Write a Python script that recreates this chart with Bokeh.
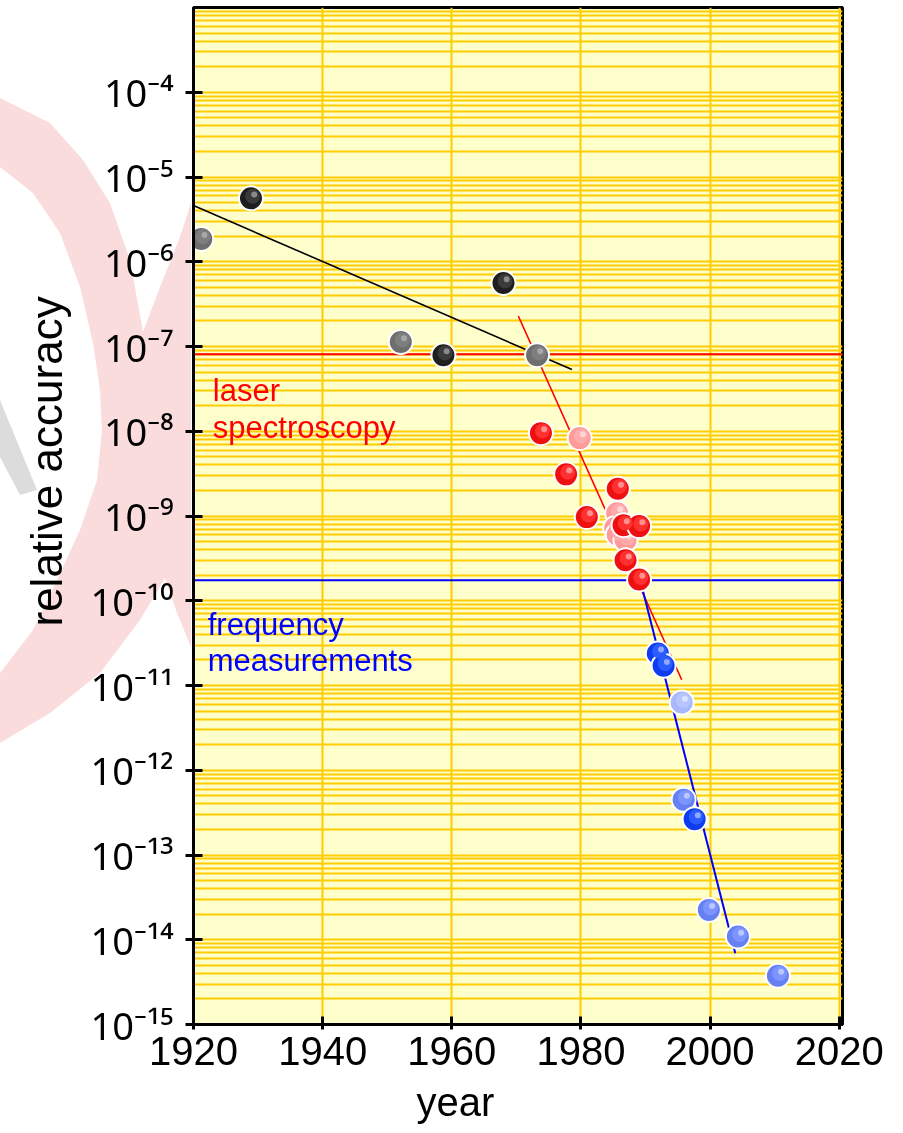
from urllib.parse import quote
from bokeh.plotting import figure
from bokeh.models import (Range1d, FixedTicker, Span, Label, Title, InlineStyleSheet,
                          CustomJSTransform, CustomJSTickFormatter)
from bokeh.transform import dodge, transform
from bokeh.embed import file_html
from bokeh.resources import INLINE

# ---------------- data ----------------
gray_year = [1921.2, 1952.1, 1973.2]
gray_acc = [1.86e-6, 1.13e-7, 7.9e-8]
black_year = [1928.9, 1958.7, 1968.0]
black_acc = [5.6e-6, 7.9e-8, 5.6e-7]

pink_year = [1979.8, 1985.6, 1985.3, 1985.7, 1986.9]
pink_acc = [8.3e-9, 1.08e-9, 7.2e-10, 6.0e-10, 5.2e-10]
red_year = [1986.6, 1973.8, 1977.7, 1985.7, 1980.9, 1989.0, 1986.9, 1989.0]
red_acc = [7.8e-10, 9.5e-9, 3.1e-9, 2.1e-9, 9.7e-10, 7.6e-10, 3.0e-10, 1.78e-10]

blue_light_year = [1995.6]
blue_light_acc = [6.3e-12]
blue_mid_year = [1995.9, 1999.8, 2004.3, 2010.5]
blue_mid_acc = [4.5e-13, 2.25e-14, 1.09e-14, 3.77e-15]
blue_dark_year = [1991.9, 1992.8, 1997.6]
blue_dark_acc = [2.39e-11, 1.71e-11, 2.65e-13]

classic_fit_year = [1920.0, 1978.6]
classic_fit_acc = [4.6e-6, 5.35e-8]
laser_fit_year = [1970.3, 1995.6]
laser_fit_acc = [2.29e-7, 1.17e-11]
freq_fit_year = [1989.6, 2003.9]
freq_fit_acc = [1.30e-10, 6.95e-15]

laser_level = 8.1e-8
freq_level = 1.74e-10

x_ticks = [1920, 1940, 1960, 1980, 2000, 2020]
y_exponents = list(range(-15, -3))

FONT = "Liberation Sans"

# ---------------- figure ----------------
p = figure(width=903, height=1133, output_backend="svg", toolbar_location=None,
           y_axis_type="log", x_range=Range1d(1920, 2020.5), y_range=Range1d(1e-15, 1e-3),
           min_border_left=193, min_border_right=61, min_border_top=7, min_border_bottom=103)

p.background_fill_color = "#FFFFCC"
p.border_fill_color = None
p.outline_line_color = "black"
p.outline_line_width = 3

# faint logo watermark in the left margin (page decoration, not data);
# laid over the page with multiply blending so that it looks like it sits behind the texts
wm_pink = [(0, 98), (50, 123), (83, 160), (110, 203), (130, 260), (143, 332), (160, 287),
           (180, 237), (191, 203), (191, 647), (177, 613), (165, 578), (140, 620),
           (100, 673), (50, 713), (0, 743), (0, 673), (33, 630), (57, 580), (80, 530),
           (97, 480), (102, 430), (100, 390), (93, 343), (80, 287), (60, 233), (33, 193),
           (0, 167)]
wm_gray = [(0, 400), (37, 490), (20, 495), (0, 457)]


def _pts(pts):
    return " ".join(f"{a},{b}" for a, b in pts)


wm_svg = ('<svg xmlns="http://www.w3.org/2000/svg" width="903" height="1133" '
          'viewBox="0 0 903 1133">'
          f'<polygon points="{_pts(wm_pink)}" fill="#FADCDD"/>'
          f'<polygon points="{_pts(wm_gray)}" fill="#DCDCDC"/></svg>')
wm_css = (':host::after { content: ""; position: absolute; left: 0; top: 0; '
          'width: 903px; height: 1133px; '
          'background-image: url("data:image/svg+xml,' + quote(wm_svg) + '"); '
          'background-repeat: no-repeat; background-size: 903px 1133px; '
          'mix-blend-mode: multiply; pointer-events: none; z-index: 10; }')
p.stylesheets = [InlineStyleSheet(css=wm_css)]
p.styles = {"background-color": "white"}

yt = FixedTicker(ticks=[10.0 ** e for e in y_exponents],
                 minor_ticks=[k * 10.0 ** e for e in range(-15, -3) for k in range(2, 10)])
xt = FixedTicker(ticks=x_ticks)
p.yaxis.ticker = yt
p.ygrid.ticker = yt
p.xaxis.ticker = xt
p.xgrid.ticker = xt

p.yaxis.formatter = CustomJSTickFormatter(code="""
const sup = {'-':'\u207B','0':'\u2070','1':'\u00B9','2':'\u00B2','3':'\u00B3','4':'\u2074',
             '5':'\u2075','6':'\u2076','7':'\u2077','8':'\u2078','9':'\u2079'};
const e = String(Math.round(Math.log10(tick)));
return '10' + e.split('').map(c => sup[c]).join('');
""")

for g in (p.xgrid, p.ygrid):
    g.grid_line_color = "#FFCC00"
    g.grid_line_width = 2
p.ygrid.minor_grid_line_color = "#FFCC00"
p.ygrid.minor_grid_line_width = 2

for ax in (p.xaxis, p.yaxis):
    ax.axis_line_width = 3
    ax.axis_line_color = "black"
    ax.major_tick_line_width = 3
    ax.major_tick_line_color = "black"
    ax.minor_tick_line_color = None
    ax.major_label_text_color = "black"

p.xaxis.major_tick_in = 8
p.xaxis.major_tick_out = 5
p.xaxis.major_label_text_font = FONT
p.xaxis.major_label_text_font_size = "40px"
p.xaxis.major_label_standoff = 7

p.yaxis.major_tick_in = 9
p.yaxis.major_tick_out = 8
p.yaxis.major_label_text_font = "Noto Sans"
p.yaxis.major_label_text_font_size = "38px"
p.yaxis.major_label_standoff = 12

# ---------------- axis titles ----------------
p.add_layout(Title(text="relative accuracy", align="left", offset=398, standoff=34,
                   text_font=FONT, text_font_size="44px", text_font_style="normal",
                   text_color="black"), "left")
p.add_layout(Title(text="year", align="left", offset=223, standoff=20,
                   text_font=FONT, text_font_size="40px", text_font_style="normal",
                   text_color="black"), "below")

# ---------------- reference levels & fits ----------------
p.add_layout(Span(location=laser_level, dimension="width", line_color="#FF0000", line_width=2,
                  level="underlay"))
p.add_layout(Span(location=freq_level, dimension="width", line_color="#0000FF", line_width=2,
                  level="underlay"))

p.line(classic_fit_year, classic_fit_acc, line_color="black", line_width=1.6)
p.line(laser_fit_year, laser_fit_acc, line_color="#FF0000", line_width=1.6)
p.line(freq_fit_year, freq_fit_acc, line_color="#0000FF", line_width=2)

# ---------------- spheres ----------------
up1 = CustomJSTransform(v_func="return xs.map(v => v * 1.06)")
up2 = CustomJSTransform(v_func="return xs.map(v => v * 1.11)")


def sphere(xs, ys, base, mid, hl):
    data = dict(x=xs, y=ys)
    p.scatter("x", "y", source=data, size=24, fill_color=base, line_color="white", line_width=2)
    p.scatter(dodge("x", 0.25), transform("y", up1), source=data, size=15,
              fill_color=mid, line_color=None)
    p.scatter(dodge("x", 0.5), transform("y", up2), source=data, size=6,
              fill_color=hl, line_color=None)


sphere(gray_year, gray_acc, "#6e6e6e", "#7e7e7e", "#a8a8a8")
sphere(black_year, black_acc, "#1e1e1e", "#3a3a3a", "#8a8a8a")
sphere(pink_year, pink_acc, "#FF9A9A", "#FFABAB", "#FFD4D4")
sphere(red_year, red_acc, "#EE1010", "#FF3030", "#FF9090")
sphere(blue_light_year, blue_light_acc, "#A8B8FA", "#B6C4FF", "#DCE3FF")
sphere(blue_mid_year, blue_mid_acc, "#6680F2", "#7C94FF", "#BAC8FF")
sphere(blue_dark_year, blue_dark_acc, "#0E3CEE", "#2A5CFF", "#90A8FF")

# ---------------- text annotations ----------------
for txt, yv, col, xv in [("laser", 3.0e-8, "#FF0000", 1923.0),
                         ("spectroscopy", 1.1e-8, "#FF0000", 1923.0),
                         ("frequency", 5.2e-11, "#0000FF", 1922.2),
                         ("measurements", 1.96e-11, "#0000FF", 1922.2)]:
    p.add_layout(Label(x=xv, y=yv, text=txt, text_color=col, text_font=FONT,
                       text_font_size="31px", text_baseline="alphabetic", text_align="left"))

open("out.html", "w").write(file_html(p, INLINE))
